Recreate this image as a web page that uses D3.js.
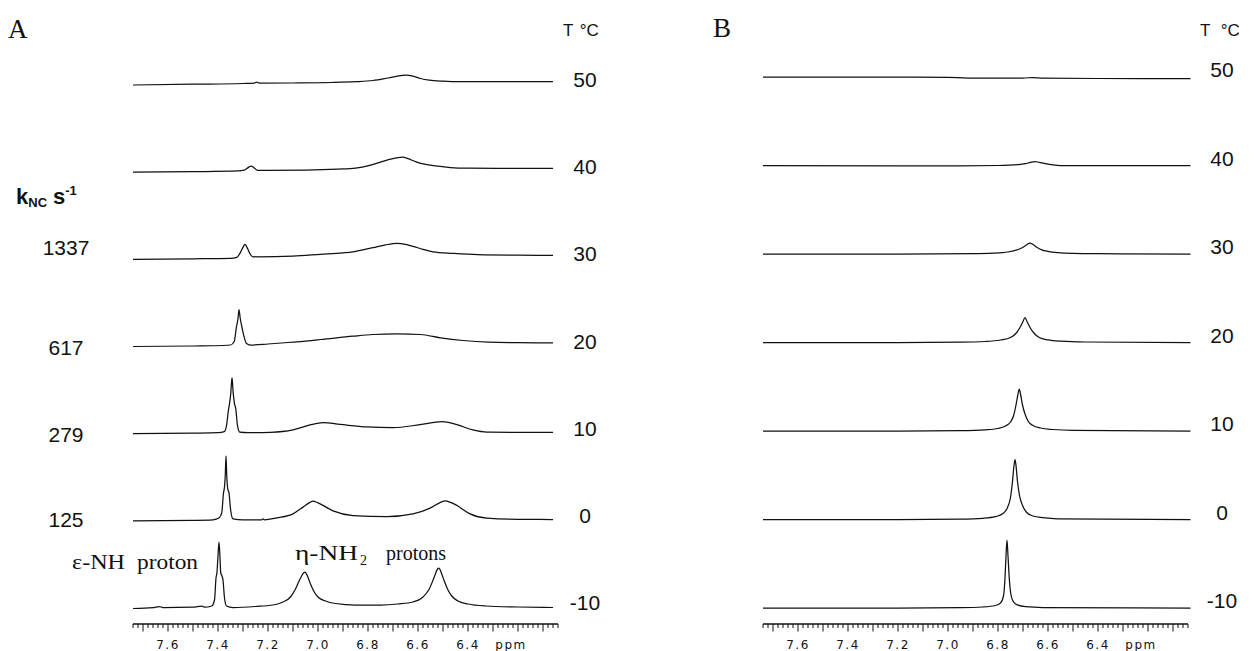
<!DOCTYPE html>
<html>
<head>
<meta charset="utf-8">
<script src="https://cdn.jsdelivr.net/npm/d3@7"></script>
<style>
  html, body { margin: 0; padding: 0; background: #fff; }
  svg { display: block; }
  .sans { font-family: "Liberation Sans", Arial, sans-serif; fill: #111; }
  .serif { font-family: "Liberation Serif", "Times New Roman", serif; fill: #111; }
  .tick-label { font-family: "DejaVu Sans", sans-serif; font-size: 12px; letter-spacing: 1.5px; fill: #111; }
</style>
</head>
<body>
<script>
// Temperatures (°C), top trace first
const temps = [50, 40, 30, 20, 10, 0, -10];

// Exchange rates k_NC (s^-1) for the temperatures that carry one
const rateTemps = [30, 20, 10, 0];
const rates = [1337, 617, 279, 125];

// Chemical-shift tick labels (ppm)
const ppmLabels = [7.6, 7.4, 7.2, 7.0, 6.8, 6.6, 6.4];

// Panel A spectra: [ppm, intensity]
const a50 = [[7.74,0],[7.5,0.8],[7.3,1.5],[7.255,1.8],[7.245,3],[7.235,1.8],[7.1,2],[6.95,2.5],[6.85,3.3],[6.78,4.5],[6.72,7],[6.67,9.3],[6.645,10],[6.62,8.8],[6.59,6.5],[6.555,4.8],[6.5,3.8],[6.43,3.3],[6.3,3.3],[6.06,3.4]];
const a40 = [[7.74,0],[7.5,0.5],[7.32,1.2],[7.295,2],[7.28,4.5],[7.268,6],[7.256,4.5],[7.242,1.8],[7.2,1.7],[7.05,2],[6.92,3],[6.85,4],[6.79,7],[6.75,10],[6.71,13],[6.68,14.6],[6.66,15],[6.64,13.5],[6.61,10.5],[6.585,8.5],[6.55,7],[6.52,6],[6.47,4.6],[6.40,4],[6.25,3.8],[6.06,3.7]];
const a30 = [[7.74,0],[7.5,0.5],[7.35,1],[7.325,2],[7.31,7],[7.30,12],[7.292,15],[7.284,12],[7.275,7],[7.262,2.8],[7.24,2.5],[7.1,3.2],[6.99,5],[6.90,6.5],[6.86,7.5],[6.78,11.7],[6.73,14.5],[6.684,16],[6.65,15],[6.62,13],[6.58,10],[6.54,7.5],[6.46,6],[6.36,4.7],[6.2,4.2],[6.06,4]];
const a20 = [[7.74,0],[7.5,0.5],[7.38,1],[7.35,1.5],[7.335,5],[7.326,20],[7.32,28],[7.316,37],[7.311,28],[7.304,19],[7.296,10],[7.286,3],[7.27,1.5],[7.2,2.5],[7.12,4],[6.99,7],[6.86,10.3],[6.78,12],[6.684,12.7],[6.59,12],[6.51,8.7],[6.42,6],[6.32,4.3],[6.2,3.8],[6.06,3.7]];
const a10 = [[7.74,0],[7.5,0.5],[7.40,1],[7.375,2],[7.366,8],[7.358,24],[7.354,30],[7.349,40],[7.344,56],[7.339,40],[7.334,30],[7.329,25],[7.322,8],[7.313,1.5],[7.28,1],[7.19,1.3],[7.10,3.7],[7.032,8.7],[6.98,11],[6.912,9.3],[6.804,6.7],[6.70,6],[6.592,9],[6.504,12],[6.444,9],[6.38,3.7],[6.324,1.5],[6.2,1.3],[6.06,1.3]];
const a0 = [[7.74,0],[7.5,0.5],[7.42,1],[7.395,3],[7.385,8],[7.378,28],[7.374,34],[7.371,45],[7.368,65],[7.365,45],[7.361,32],[7.356,28],[7.350,12],[7.340,2],[7.3,1],[7.225,1],[7.22,2],[7.214,1],[7.164,3],[7.1,7],[7.06,13.7],[7.035,18],[7.02,19.7],[7.0,18],[6.94,10],[6.86,5.3],[6.724,4.3],[6.62,7],[6.552,12.7],[6.51,18.5],[6.492,20],[6.47,18.5],[6.444,15.3],[6.392,7],[6.324,2.7],[6.2,1.5],[6.06,1.3]];
const aM10 = [[7.74,-0.5],[7.66,0.3],[7.635,1.5],[7.62,0.5],[7.50,0.8],[7.465,2],[7.455,0.8],[7.425,2],[7.414,8],[7.408,30],[7.404,36],[7.400,52],[7.396,66],[7.392,50],[7.389,35],[7.384,32],[7.380,28],[7.374,10],[7.366,2],[7.34,0.5],[7.25,1.5],[7.18,3],[7.14,6],[7.11,11],[7.09,19],[7.07,30],[7.058,35],[7.052,36],[7.044,33],[7.03,24],[7.015,16],[7.0,11],[6.97,7],[6.93,4.5],[6.85,3],[6.75,3],[6.68,4],[6.62,6],[6.58,11],[6.555,19],[6.535,31],[6.522,39],[6.516,40],[6.508,36],[6.495,27],[6.48,18],[6.465,12],[6.44,7],[6.40,4],[6.33,2],[6.2,1],[6.06,0.5]];

// Panel B spectra: [ppm, intensity]
const b50 = [[7.74,0],[7.2,0],[7.0,-0.3],[6.92,-1],[6.70,-1],[6.66,-0.5],[6.62,-1.2],[6.4,-1.5],[6.03,-1.5]];
const b40 = [[7.74,0],[7.2,-0.3],[6.95,-0.3],[6.8,0],[6.72,0.8],[6.69,1.8],[6.67,3.2],[6.652,4],[6.635,3.2],[6.61,1.8],[6.58,0.6],[6.55,0],[6.3,0],[6.03,0]];
const b30 = [[7.74,0],[7.2,0],[6.9,0.3],[6.82,0.8],[6.76,2],[6.72,4.5],[6.70,6.8],[6.685,9.2],[6.672,11],[6.66,9.5],[6.645,6.8],[6.625,4.2],[6.6,2.6],[6.56,1.3],[6.5,0.6],[6.4,0.3],[6.03,0]];
const b20 = [[7.74,0],[7.2,0],[6.95,0.3],[6.85,1],[6.79,2.5],[6.75,5],[6.725,10],[6.71,16],[6.70,21],[6.692,25],[6.684,21],[6.672,15],[6.655,9],[6.635,5],[6.60,2.6],[6.55,1.3],[6.45,0.5],[6.03,0]];
const b10 = [[7.74,0],[7.2,0],[6.95,0.4],[6.85,1.2],[6.80,2.5],[6.77,5],[6.75,9],[6.738,15],[6.728,26],[6.72,37],[6.715,42],[6.71,37],[6.702,26],[6.692,17],[6.68,10],[6.66,5.5],[6.63,3],[6.58,1.5],[6.5,0.6],[6.03,0]];
const b0 = [[7.74,0],[7.2,0],[6.95,0.4],[6.86,1.2],[6.81,2.8],[6.78,6],[6.762,12],[6.75,22],[6.742,38],[6.736,54],[6.732,60],[6.728,54],[6.722,38],[6.714,24],[6.70,13],[6.685,7],[6.66,3.5],[6.62,1.8],[6.56,0.7],[6.03,0]];
const bM10 = [[7.74,0],[7.2,0],[6.95,0.3],[6.86,1],[6.81,2.5],[6.79,5],[6.778,12],[6.772,30],[6.768,52],[6.764,68],[6.760,52],[6.755,30],[6.748,13],[6.738,6],[6.72,2.8],[6.69,1.3],[6.62,0.5],[6.03,0]];

const spectraA = [a50, a40, a30, a20, a10, a0, aM10];
const spectraB = [b50, b40, b30, b20, b10, b0, bM10];

// ---- layout ----
const W = 1259, H = 651;
const ppmDomain = [7.74, 6.04];
const axisY = 624;
const kLabelDy = [-7, 5, 5, 3];

const svg = d3.select("body").append("svg")
  .attr("width", W).attr("height", H)
  .attr("viewBox", `0 0 ${W} ${H}`);

// intensity units -> pixels above the trace baseline
const h = d3.scaleLinear().domain([0, 100]).range([0, 100]);

const panels = [
  { id: "A", spectra: spectraA,
    x: d3.scaleLinear().domain(ppmDomain).range([133, 558]),
    y: d3.scalePoint().domain(temps).range([85, 608]),
    letterX: 8, letterY: 38, tX: 563, labelX: 585, labelDy: 2 },
  { id: "B", spectra: spectraB,
    x: d3.scaleLinear().domain(ppmDomain).range([763, 1188]),
    y: d3.scalePoint().domain(temps).range([77, 608]),
    letterX: 713, letterY: 37, tX: 1200, labelX: 1222, labelDy: 0 }
];

panels.forEach(p => {
  const g = svg.append("g").attr("class", "panel-" + p.id);

  // stacked spectra
  temps.forEach((t, i) => {
    const line = d3.line()
      .x(d => p.x(d[0]))
      .y(d => p.y(t) - h(d[1]))
      .curve(d3.curveMonotoneX);
    g.append("path")
      .datum(p.spectra[i])
      .attr("d", line)
      .attr("fill", "none")
      .attr("stroke", "#111")
      .attr("stroke-width", 1.25)
      .attr("stroke-linejoin", "round");

    g.append("text")
      .attr("class", "sans")
      .attr("x", p.labelX)
      .attr("y", p.y(t) + p.labelDy)
      .attr("text-anchor", "middle")
      .attr("font-size", 21)
      .text(t);
  });

  // ppm axis: fine ticks every 0.02, longer every 0.1, labels every 0.2
  const fine = d3.range(604, 775, 2).map(v => v / 100);
  const ax = g.append("g").attr("transform", `translate(0,${axisY})`);
  ax.append("line")
    .attr("x1", p.x(ppmDomain[0])).attr("x2", p.x(ppmDomain[1]))
    .attr("stroke", "#111").attr("stroke-width", 1.3);
  ax.selectAll("line.tk").data(fine).join("line")
    .attr("class", "tk")
    .attr("x1", d => p.x(d)).attr("x2", d => p.x(d))
    .attr("y1", 0)
    .attr("y2", d => (Math.round(d * 100) % 10 === 0 ? 7.5 : 4))
    .attr("stroke", "#111").attr("stroke-width", 1);
  ax.selectAll("text.tl").data(ppmLabels).join("text")
    .attr("class", "tick-label tl")
    .attr("x", d => p.x(d))
    .attr("y", 25)
    .attr("text-anchor", "middle")
    .text(d => d3.format(".1f")(d));
  ax.append("text")
    .attr("class", "tick-label")
    .attr("x", p.x(6.4) + 43)
    .attr("y", 25)
    .attr("text-anchor", "middle")
    .text("ppm");

  // panel letter and temperature header
  svg.append("text").attr("class", "serif")
    .attr("x", p.letterX).attr("y", p.letterY)
    .attr("font-size", 27).text(p.id);
  svg.append("text").attr("class", "sans")
    .attr("x", p.tX).attr("y", 36)
    .attr("font-size", 17)
    .attr("word-spacing", p.id === "B" ? 6 : 2)
    .text("T °C");
});

// exchange-rate column (panel A)
const pA = panels[0];
const kText = svg.append("text").attr("class", "sans")
  .attr("x", 16).attr("y", 204).attr("font-size", 22).attr("font-weight", "bold");
kText.append("tspan").text("k");
kText.append("tspan").attr("font-size", 13).attr("dy", 3).text("NC");
kText.append("tspan").attr("dy", -3).attr("dx", 6).text("s");
kText.append("tspan").attr("font-size", 13).attr("dy", -9).text("-1");

svg.selectAll("text.rate").data(rates).join("text")
  .attr("class", "sans rate")
  .attr("x", 66)
  .attr("y", (d, i) => pA.y(rateTemps[i]) + 3 + kLabelDy[i])
  .attr("text-anchor", "middle")
  .attr("font-size", 21)
  .text(d => d);

// peak annotations
svg.append("text").attr("class", "serif")
  .attr("x", 72).attr("y", 569).attr("font-size", 20)
  .attr("textLength", 53).attr("lengthAdjust", "spacingAndGlyphs")
  .text("ε-NH");
svg.append("text").attr("class", "serif")
  .attr("x", 137).attr("y", 569).attr("font-size", 20)
  .attr("textLength", 61).attr("lengthAdjust", "spacingAndGlyphs")
  .text("proton");

svg.append("text").attr("class", "serif")
  .attr("x", 295).attr("y", 560).attr("font-size", 20)
  .attr("textLength", 63).attr("lengthAdjust", "spacingAndGlyphs")
  .text("η-NH");
svg.append("text").attr("class", "serif")
  .attr("x", 360).attr("y", 565).attr("font-size", 14)
  .text("2");
svg.append("text").attr("class", "serif")
  .attr("x", 386).attr("y", 560).attr("font-size", 20)
  .attr("textLength", 60).attr("lengthAdjust", "spacingAndGlyphs")
  .text("protons");
</script>
</body>
</html>
